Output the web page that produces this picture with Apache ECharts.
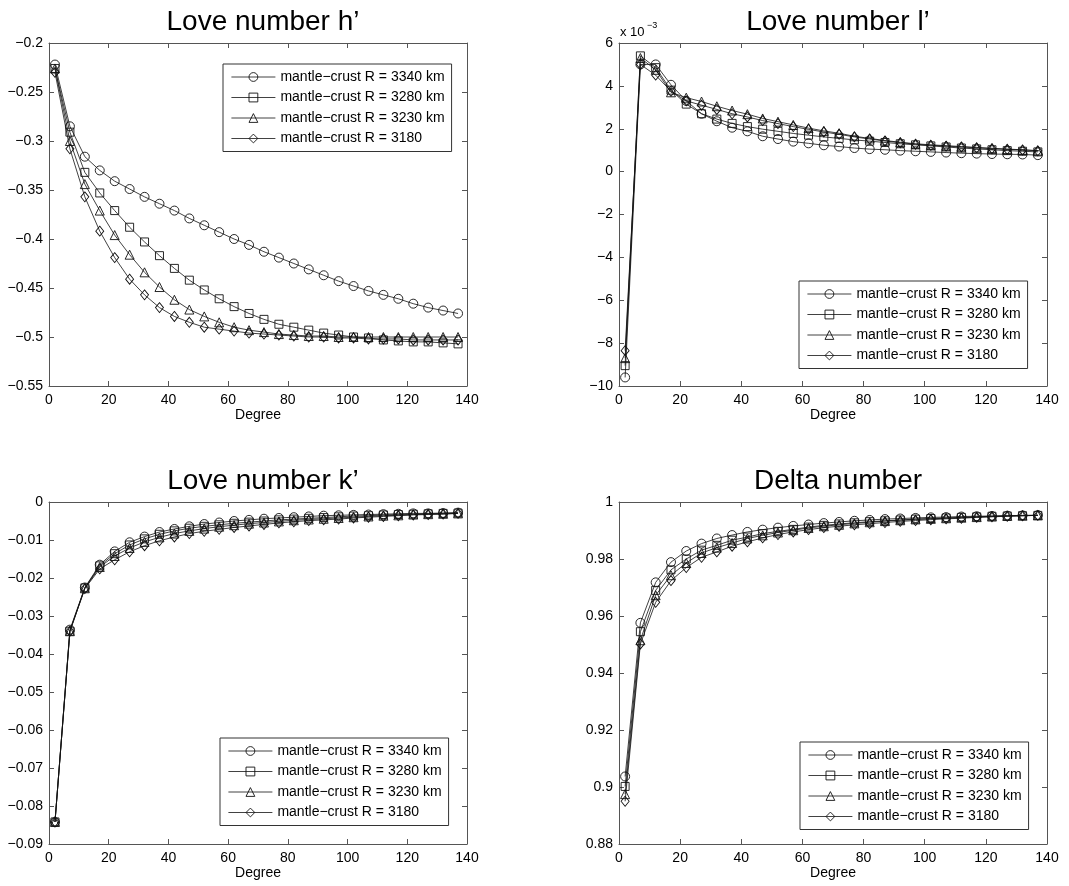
<!DOCTYPE html>
<html>
<head>
<meta charset="utf-8">
<script src="https://cdn.jsdelivr.net/npm/echarts@6/dist/echarts.min.js"></script>
<style>
  html, body { margin: 0; padding: 0; background: #fff; }
  #chart { width: 1069px; height: 886px; }
</style>
</head>
<body>
<div id="chart"></div>
<script>
// spherical harmonic degree (x axis, same for all panels)
var degrees = [2, 7, 12, 17, 22, 27, 32, 37, 42, 47, 52, 57, 62, 67, 72, 77, 82, 87, 92, 97, 102, 107, 112, 117, 122, 127, 132, 137];

var names = ['mantle−crust R = 3340 km', 'mantle−crust R = 3280 km', 'mantle−crust R = 3230 km', 'mantle−crust R = 3180'];

// Love number h'
var h3340 = [-0.222, -0.285, -0.316, -0.330, -0.341, -0.349, -0.357, -0.364, -0.371, -0.379, -0.386, -0.393, -0.400, -0.406, -0.413, -0.419, -0.425, -0.431, -0.437, -0.443, -0.448, -0.453, -0.457, -0.461, -0.466, -0.470, -0.473, -0.476];
var h3280 = [-0.226, -0.291, -0.332, -0.353, -0.371, -0.388, -0.403, -0.417, -0.430, -0.442, -0.452, -0.461, -0.469, -0.476, -0.482, -0.487, -0.490, -0.493, -0.496, -0.498, -0.500, -0.501, -0.503, -0.504, -0.505, -0.505, -0.506, -0.507];
var h3230 = [-0.226, -0.300, -0.344, -0.371, -0.396, -0.416, -0.434, -0.449, -0.462, -0.472, -0.479, -0.485, -0.490, -0.493, -0.495, -0.497, -0.498, -0.499, -0.499, -0.500, -0.500, -0.500, -0.500, -0.500, -0.500, -0.500, -0.500, -0.500];
var h3180 = [-0.230, -0.308, -0.357, -0.392, -0.419, -0.441, -0.457, -0.470, -0.479, -0.485, -0.490, -0.492, -0.494, -0.496, -0.497, -0.498, -0.499, -0.500, -0.500, -0.501, -0.501, -0.502, -0.502, -0.502, -0.503, -0.503, -0.503, -0.503];

// Love number l' (x 10^-3)
var l3340 = [-9.6, 5.0, 5.0, 4.05, 3.3, 2.7, 2.35, 2.05, 1.88, 1.65, 1.52, 1.4, 1.32, 1.23, 1.17, 1.1, 1.05, 1.02, 0.98, 0.95, 0.92, 0.89, 0.86, 0.84, 0.82, 0.81, 0.8, 0.77];
var l3280 = [-9.05, 5.4, 4.85, 3.8, 3.15, 2.7, 2.45, 2.25, 2.1, 1.98, 1.88, 1.78, 1.7, 1.62, 1.55, 1.48, 1.42, 1.36, 1.3, 1.25, 1.2, 1.15, 1.1, 1.06, 1.02, 0.98, 0.95, 0.92];
var l3230 = [-8.7, 5.3, 4.75, 3.7, 3.45, 3.27, 3.05, 2.85, 2.68, 2.48, 2.33, 2.18, 2.03, 1.9, 1.79, 1.65, 1.55, 1.45, 1.37, 1.3, 1.25, 1.21, 1.17, 1.13, 1.09, 1.05, 1.02, 0.98];
var l3180 = [-8.35, 5.0, 4.5, 3.75, 3.3, 3.1, 2.9, 2.7, 2.55, 2.38, 2.24, 2.1, 1.97, 1.85, 1.74, 1.62, 1.52, 1.43, 1.35, 1.28, 1.23, 1.19, 1.15, 1.11, 1.07, 1.04, 1.01, 0.97];

// Love number k'
var k3340 = [-0.0842, -0.0336, -0.0225, -0.0165, -0.0130, -0.0106, -0.0091, -0.0079, -0.0071, -0.0064, -0.0058, -0.0054, -0.0050, -0.0047, -0.0044, -0.0042, -0.0040, -0.0038, -0.0036, -0.0035, -0.0034, -0.0033, -0.0032, -0.0031, -0.0030, -0.0030, -0.0029, -0.0028];
var k3280 = [-0.0842, -0.0340, -0.0226, -0.0168, -0.0136, -0.0113, -0.0097, -0.0085, -0.0076, -0.0069, -0.0064, -0.0060, -0.0056, -0.0053, -0.0050, -0.0047, -0.0045, -0.0043, -0.0041, -0.0039, -0.0037, -0.0036, -0.0034, -0.0033, -0.0032, -0.0031, -0.0030, -0.0029];
var k3230 = [-0.0842, -0.0340, -0.0227, -0.0171, -0.0142, -0.0121, -0.0105, -0.0093, -0.0083, -0.0076, -0.0070, -0.0065, -0.0061, -0.0057, -0.0054, -0.0051, -0.0048, -0.0046, -0.0044, -0.0042, -0.0040, -0.0038, -0.0036, -0.0035, -0.0033, -0.0032, -0.0031, -0.0030];
var k3180 = [-0.0842, -0.0340, -0.0228, -0.0176, -0.0152, -0.0131, -0.0115, -0.0102, -0.0092, -0.0083, -0.0077, -0.0072, -0.0067, -0.0063, -0.0059, -0.0055, -0.0052, -0.0049, -0.0047, -0.0045, -0.0042, -0.0040, -0.0038, -0.0036, -0.0034, -0.0033, -0.0032, -0.0030];

// Delta number
var d3340 = [0.9037, 0.9576, 0.9718, 0.9789, 0.9828, 0.9854, 0.9872, 0.9884, 0.9895, 0.9903, 0.9910, 0.9916, 0.9921, 0.9926, 0.9930, 0.9934, 0.9937, 0.9940, 0.9942, 0.9944, 0.9946, 0.9947, 0.9949, 0.9950, 0.9951, 0.9952, 0.9953, 0.9954];
var d3280 = [0.9002, 0.9545, 0.9690, 0.9762, 0.9800, 0.9831, 0.9848, 0.9866, 0.9877, 0.9889, 0.9897, 0.9904, 0.9912, 0.9918, 0.9923, 0.9927, 0.9931, 0.9934, 0.9937, 0.9940, 0.9942, 0.9944, 0.9946, 0.9948, 0.9950, 0.9951, 0.9952, 0.9953];
var d3230 = [0.8975, 0.9515, 0.9673, 0.9743, 0.9786, 0.9821, 0.9840, 0.9856, 0.9872, 0.9883, 0.9893, 0.9901, 0.9909, 0.9915, 0.9920, 0.9925, 0.9929, 0.9933, 0.9936, 0.9939, 0.9941, 0.9943, 0.9945, 0.9947, 0.9949, 0.9951, 0.9952, 0.9953];
var d3180 = [0.8950, 0.9502, 0.9648, 0.9724, 0.9770, 0.9806, 0.9825, 0.9845, 0.9860, 0.9874, 0.9886, 0.9895, 0.9903, 0.9910, 0.9915, 0.9920, 0.9924, 0.9928, 0.9932, 0.9935, 0.9938, 0.9941, 0.9943, 0.9946, 0.9948, 0.9950, 0.9952, 0.9953];

var FONT = 'Liberation Sans';
var symbols = ['circle', 'rect', 'triangle', 'diamond'];
var symbolSizes = [9, 8, 9, [8, 10]];

var panels = [
    { title: 'Love number h’', left: 49, top: 43, width: 418, height: 343,
      min: -0.55, max: -0.2, interval: 0.05, series: [h3340, h3280, h3230, h3180], legend: { left: 223, top: 64 } },
    { title: 'Love number l’', left: 619, top: 43, width: 428, height: 343,
      min: -10, max: 6, interval: 2, series: [l3340, l3280, l3230, l3180], legend: { left: 799, top: 281 } },
    { title: 'Love number k’', left: 49, top: 502, width: 418, height: 342,
      min: -0.09, max: 0, interval: 0.01, series: [k3340, k3280, k3230, k3180], legend: { left: 220, top: 738 } },
    { title: 'Delta number', left: 619, top: 502, width: 428, height: 342,
      min: 0.88, max: 1, interval: 0.02, series: [d3340, d3280, d3230, d3180], legend: { left: 800, top: 742 } }
];

function fmt(v) {
    return String(Math.round(v * 10000) / 10000).replace('-', '−');
}

var axisLine = { show: true, onZero: false, lineStyle: { color: '#555', width: 1 } };
var tick = { show: true, inside: true, length: 5, lineStyle: { color: '#555' } };

var option = {
    backgroundColor: '#fff',
    animation: false,
    title: [], grid: [], xAxis: [], yAxis: [], legend: [], series: [],
    graphic: [
        { type: 'text', left: 620, top: 26, style: { text: 'x 10', font: '13px ' + FONT, fill: '#000' } },
        { type: 'text', left: 647, top: 21, style: { text: '−3', font: '9px ' + FONT, fill: '#000' } }
    ]
};

panels.forEach(function (p, i) {
    option.title.push({
        text: p.title, left: p.left + p.width / 2, top: p.top - 40, textAlign: 'center',
        textStyle: { fontFamily: FONT, fontSize: 28, fontWeight: 'normal', color: '#000' }
    });
    option.grid.push({ left: p.left, top: p.top, width: p.width, height: p.height, containLabel: false });
    option.xAxis.push({
        type: 'value', gridIndex: i, position: 'bottom', min: 0, max: 140, interval: 20,
        name: 'Degree', nameLocation: 'middle', nameGap: 21,
        nameTextStyle: { fontFamily: FONT, fontSize: 14, color: '#000' },
        axisLine: axisLine, axisTick: tick, splitLine: { show: false },
        axisLabel: { fontFamily: FONT, fontSize: 14, color: '#000', margin: 7 }
    });
    option.xAxis.push({
        type: 'value', gridIndex: i, position: 'top', min: 0, max: 140, interval: 20,
        axisLine: axisLine, axisTick: tick, splitLine: { show: false }, axisLabel: { show: false }
    });
    option.yAxis.push({
        type: 'value', gridIndex: i, position: 'left', min: p.min, max: p.max, interval: p.interval,
        axisLine: axisLine, axisTick: tick, splitLine: { show: false },
        axisLabel: { fontFamily: FONT, fontSize: 14, color: '#000', margin: 6, formatter: fmt }
    });
    option.yAxis.push({
        type: 'value', gridIndex: i, position: 'right', min: p.min, max: p.max, interval: p.interval,
        axisLine: axisLine, axisTick: tick, splitLine: { show: false }, axisLabel: { show: false }
    });
    option.legend.push({
        orient: 'vertical', left: p.legend.left, top: p.legend.top,
        data: names, itemWidth: 44, itemHeight: 11, itemGap: 4.5,
        padding: [5, 7, 5, 8], borderColor: '#333', borderWidth: 1, backgroundColor: '#fff',
        selectedMode: false,
        itemStyle: { borderWidth: 0.9 },
        lineStyle: { width: 0.8 },
        textStyle: { fontFamily: FONT, fontSize: 14, color: '#000', lineHeight: 16 }
    });
    p.series.forEach(function (vals, j) {
        option.series.push({
            type: 'line', name: names[j], xAxisIndex: 2 * i, yAxisIndex: 2 * i,
            data: degrees.map(function (d, k) { return [d, vals[k]]; }),
            symbol: symbols[j], symbolSize: symbolSizes[j], showAllSymbol: true,
            lineStyle: { color: '#111', width: 0.8 },
            itemStyle: { color: 'rgba(255,255,255,0)', borderColor: '#111', borderWidth: 0.9 },
            emphasis: { disabled: true }
        });
    });
});

var chart = echarts.init(document.getElementById('chart'));
chart.setOption(option);
</script>
</body>
</html>
